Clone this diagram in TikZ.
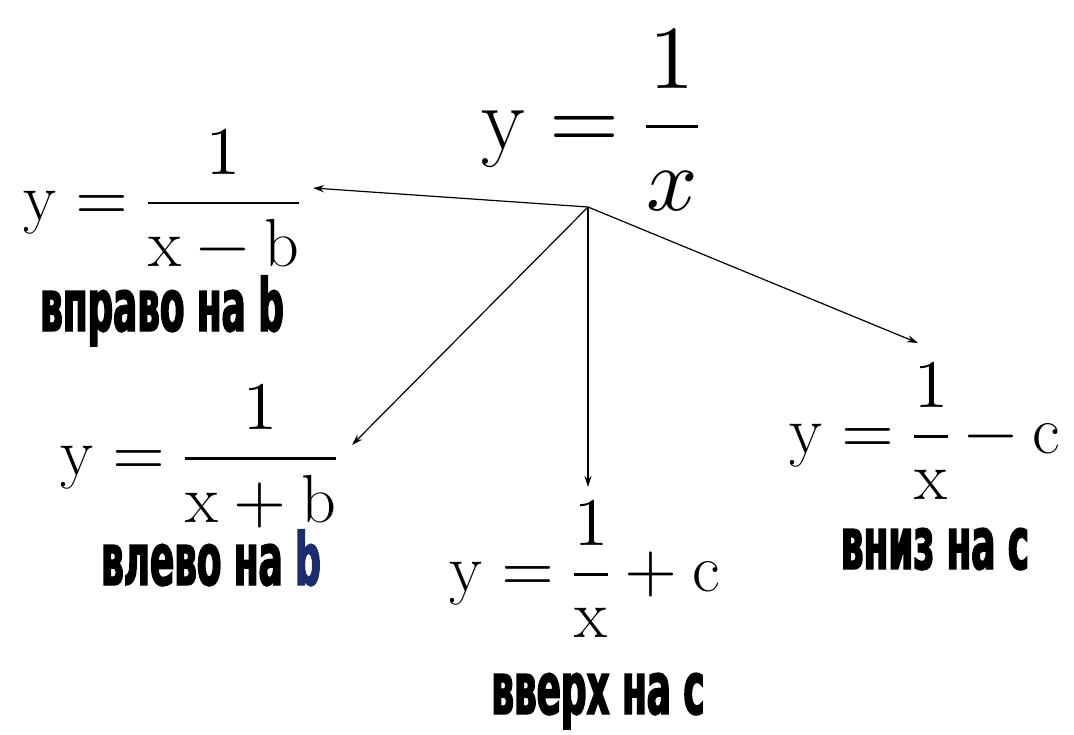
\documentclass[tikz,border=0pt]{standalone}
\usepackage{amsmath}
\usepackage{fontspec}
\usepackage{unicode-math}
\setmathfont{Latin Modern Math}
\usetikzlibrary{arrows.meta}
\newfontfamily\lblfont[FakeStretch=0.49,FakeBold=2]{DejaVu Sans}
\definecolor{bblue}{HTML}{1A2E6E}
\tikzset{
  big/.style={inner sep=0pt, font=\fontsize{90}{100}\selectfont},
  form/.style={inner sep=0pt, font=\fontsize{68}{80}\selectfont},
  lbl/.style={inner sep=0pt, anchor=base, text height=42pt, text depth=0pt,
    font=\fontsize{73}{80}\lblfont\bfseries},
  arr/.style={line width=1.2pt, -{Stealth[length=11pt,width=7pt]}}
}
\begin{document}
\begin{tikzpicture}[x=1pt,y=-1pt]
\useasboundingbox (0,0) rectangle (1074,734);
\node[big] (top) at (590,120) {$\mathrm{y}=\dfrac{1}{x}$};
\node[form] (f1) at (162,198) {$\mathrm{y}=\dfrac{1}{\mathrm{x}-\mathrm{b}}$};
\node[lbl] (l1) at (162,331) {вправо на b};
\node[form] (f2) at (199,456) {$\mathrm{y}=\dfrac{1}{\mathrm{x}+\mathrm{b}}$};
\node[lbl] (l2) at (211,585) {влево на \textcolor{bblue}{b}};
\node[form] (f3) at (585,569) {$\mathrm{y}=\dfrac{1}{\mathrm{x}}+\mathrm{c}$};
\node[lbl] (l3) at (598,714) {вверх на с};
\node[form] (f4) at (925,431) {$\mathrm{y}=\dfrac{1}{\mathrm{x}}-\mathrm{c}$};
\node[lbl] (l4) at (935,569) {вниз на с};
\coordinate (hub) at (588,207);
\coordinate (e1) at (313,188);
\coordinate (e2) at (352,445);
\coordinate (e3) at (588,487);
\coordinate (e4) at (918,343);
\draw[arr] (hub) -- (e1);
\draw[arr] (hub) -- (e2);
\draw[arr] (hub) -- (e3);
\draw[arr] (hub) -- (e4);
\end{tikzpicture}
\end{document}
